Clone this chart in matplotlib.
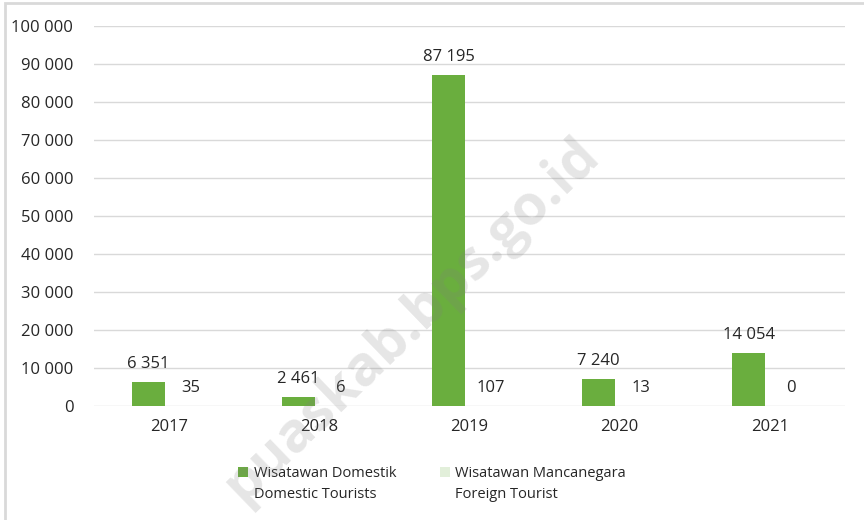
import matplotlib.pyplot as plt
from matplotlib.patches import Rectangle
from matplotlib.legend_handler import HandlerPatch, update_from_first_child
from matplotlib.container import BarContainer
import numpy as np

plt.rcParams['font.family'] = ['Open Sans', 'DejaVu Sans']

years = ['2017', '2018', '2019', '2020', '2021']
domestic = [6351, 2461, 87195, 7240, 14054]
foreign = [35, 6, 107, 13, 0]
label_dom = 'Wisatawan Domestik\nDomestic Tourists'
label_for = 'Wisatawan Mancanegara\nForeign Tourist'

green = '#6aae3e'
light = '#e2efda'


def fmt(v):
    return f'{v:,.0f}'.replace(',', ' ')


# square legend marker sitting next to the first text line
def top_square(legend, orig_handle, xdescent, ydescent, width, height, fontsize):
    return Rectangle((-xdescent, -ydescent + 0.85 * fontsize), width, height)


fig = plt.figure(figsize=(8.64, 5.2), dpi=100)
ax = fig.add_axes([0.109, 0.219, 0.869, 0.731])

x = np.arange(len(years))
w = 0.22
b1 = ax.bar(x - 0.14, domestic, w, color=green, label=label_dom, zorder=3)
b2 = ax.bar(x + 0.14, foreign, w, color=light, label=label_for, zorder=3)

for bars, vals in [(b1, domestic), (b2, foreign)]:
    for bar, v in zip(bars, vals):
        ax.annotate(fmt(v), (bar.get_x() + bar.get_width() / 2, bar.get_height()),
                    xytext=(0, 7), textcoords='offset points',
                    ha='center', va='bottom', fontsize=12, color='#262626')

ax.set_xlim(-0.5, len(years) - 0.5)
ax.set_ylim(0, 100000)
ax.set_yticks(np.arange(0, 100001, 10000))
ax.set_yticklabels([fmt(t) for t in np.arange(0, 100001, 10000)])
ax.set_xticks(x)
ax.set_xticklabels(years)
ax.tick_params(length=0, labelsize=12, labelcolor='#262626')
ax.tick_params(axis='y', pad=15)
ax.tick_params(axis='x', pad=9)
ax.grid(axis='y', color='#d9d9d9', linewidth=1, zorder=0)
for s in ax.spines.values():
    s.set_visible(False)

handler = HandlerPatch(patch_func=top_square, update_func=update_from_first_child)
leg = fig.legend(loc='upper center', bbox_to_anchor=(0.5, 0.13), ncol=2,
                 frameon=False, fontsize=10.5, handlelength=0.7, handleheight=0.7,
                 handletextpad=0.35, columnspacing=3.0, labelcolor='#262626',
                 handler_map={BarContainer: handler})
for t in leg.get_texts():
    t.set_linespacing(1.6)

# outer frame (partly cropped in the source)
fig.patches.append(Rectangle((0.006, -0.1), 1.2, 1.094, transform=fig.transFigure,
                             fill=False, edgecolor='#d9d9d9', linewidth=2))

# watermark
fig.text(0.477, 0.385, 'puaskab.bps.go.id', rotation=44, fontsize=40,
         fontweight='bold', color='#808080', alpha=0.2,
         ha='center', va='center', zorder=10)

fig.savefig('out.png', dpi=100)
